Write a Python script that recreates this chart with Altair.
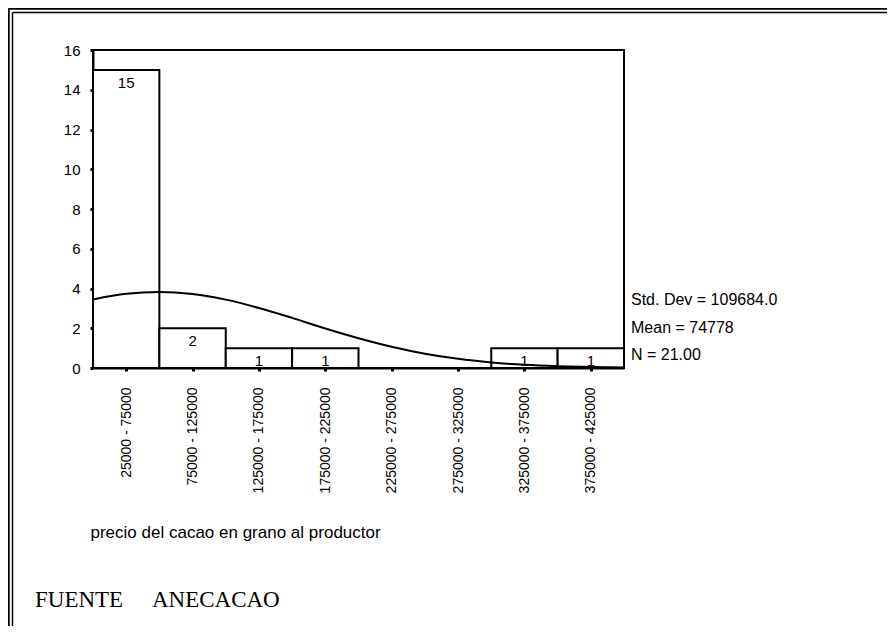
import json
import altair as alt
import pandas as pd

# ---- data ----
bin_lo = [25000, 75000, 125000, 175000, 225000, 275000, 325000, 375000]
bin_hi = [75000, 125000, 175000, 225000, 275000, 325000, 375000, 425000]
counts = [15, 2, 1, 1, 0, 0, 1, 1]
tick_labels = ["25000 - 75000", "75000 - 125000", "125000 - 175000", "175000 - 225000",
               "225000 - 275000", "275000 - 325000", "325000 - 375000", "375000 - 425000"]
tick_values = [50000, 100000, 150000, 200000, 250000, 300000, 350000, 400000]
y_ticks = [0, 2, 4, 6, 8, 10, 12, 14, 16]

curve_x = [25000, 50000, 75000, 100000, 125000, 150000, 175000, 200000, 225000,
           250000, 275000, 300000, 325000, 350000, 375000, 400000, 425000]
curve_y = [3.45, 3.73, 3.82, 3.72, 3.44, 3.02, 2.52, 1.99, 1.50,
           1.07, 0.72, 0.46, 0.28, 0.16, 0.09, 0.05, 0.02]

stats_lines = ["Std. Dev = 109684.0", "Mean = 74778", "N = 21.00"]
x_title = "precio del cacao en grano al productor"
source_text = "FUENTE\u00a0\u00a0\u00a0\u00a0\u00a0ANECACAO"

bars = pd.DataFrame({"lo": bin_lo, "hi": bin_hi, "n": counts})
curve = pd.DataFrame({"x": curve_x, "y": curve_y})

W, H = 531, 318
PAD_L, PAD_T = 85, 42
TOTAL_W, TOTAL_H = 880, 618

FONT = "Liberation Sans"

label_expr = f"{json.dumps(tick_labels)}[round((datum.value - 50000) / 50000)]"

xscale = alt.Scale(domain=[25000, 425000], nice=False, zero=False)
yscale = alt.Scale(domain=[0, 16], nice=False)

x_axis = alt.Axis(
    values=tick_values, labelExpr=label_expr, title=x_title,
    labelAngle=-90, labelAlign="right", labelBaseline="middle", labelPadding=16,
    labelFontSize=14, labelOverlap=False, labelFont=FONT, labelColor="black",
    titleAnchor="start", titleAlign="left", titleBaseline="middle", titleX=-3,
    titleY=164, titleFontSize=17, titleFontWeight="normal", titleFont=FONT,
    titleColor="black", grid=False, domainColor="black", domainWidth=2,
    tickColor="black", tickWidth=3, tickSize=3,
)
y_axis = alt.Axis(
    values=y_ticks, title=None, labelPadding=10, labelFontSize=15,
    labelOverlap=False, labelFont=FONT, labelColor="black", grid=False,
    domainColor="black", domainWidth=2, tickColor="black", tickWidth=3, tickSize=3,
)

base_bars = alt.Chart(bars)

bar_layer = base_bars.mark_rect(fill="white", stroke="black", strokeWidth=2).encode(
    x=alt.X("lo:Q", scale=xscale, axis=x_axis),
    x2="hi:Q",
    y=alt.Y("n:Q", scale=yscale, axis=y_axis),
    y2=alt.datum(0),
)

count_labels = base_bars.transform_filter("datum.n > 0").transform_calculate(
    mid="(datum.lo + datum.hi) / 2"
).mark_text(font=FONT, fontSize=15, color="black", baseline="middle", dy=13).encode(
    x=alt.X("mid:Q", scale=xscale, axis=x_axis),
    y=alt.Y("n:Q", scale=yscale, axis=y_axis),
    text=alt.Text("n:Q"),
)

curve_layer = alt.Chart(curve).mark_line(color="black", strokeWidth=2,
                                         interpolate="monotone").encode(
    x=alt.X("x:Q", scale=xscale, axis=x_axis),
    y=alt.Y("y:Q", scale=yscale, axis=y_axis),
)

one = pd.DataFrame({"k": [0]})
stats_layers = [
    alt.Chart(one).mark_text(font=FONT, fontSize=16, color="black", align="left",
                             baseline="middle", text=line).encode(
        x=alt.value(538), y=alt.value(250 + i * 27.5))
    for i, line in enumerate(stats_lines)
]

source_layer = alt.Chart(one).mark_text(
    font="Liberation Serif", fontSize=23, color="black", align="left",
    baseline="middle", text=source_text).encode(
    x=alt.value(-58), y=alt.value(550))

# document frame (double line)
frame = alt.layer(
    alt.Chart(one).mark_rule(color="black", strokeWidth=2.5).encode(
        x=alt.value(-84.5), x2=alt.value(-84.5), y=alt.value(-41.5), y2=alt.value(576)),
    alt.Chart(one).mark_rule(color="black", strokeWidth=2.5).encode(
        x=alt.value(-84.5), x2=alt.value(794), y=alt.value(-41.5), y2=alt.value(-41.5)),
    alt.Chart(one).mark_rule(color="black", strokeWidth=1.5).encode(
        x=alt.value(-80.5), x2=alt.value(-80.5), y=alt.value(-37.5), y2=alt.value(576)),
    alt.Chart(one).mark_rule(color="black", strokeWidth=1.5).encode(
        x=alt.value(-80.5), x2=alt.value(794), y=alt.value(-37.5), y2=alt.value(-37.5)),
)

chart = alt.layer(
    bar_layer, curve_layer, count_labels, *stats_layers, source_layer, frame
).properties(
    width=W, height=H,
    autosize=alt.AutoSizeParams(type="none"),
    padding={"left": PAD_L, "top": PAD_T, "right": TOTAL_W - PAD_L - W,
             "bottom": TOTAL_H - PAD_T - H},
    background="white",
).configure_view(
    stroke="black", strokeWidth=2
)

chart.save("out.html", embed_options={"renderer": "svg", "actions": False})
